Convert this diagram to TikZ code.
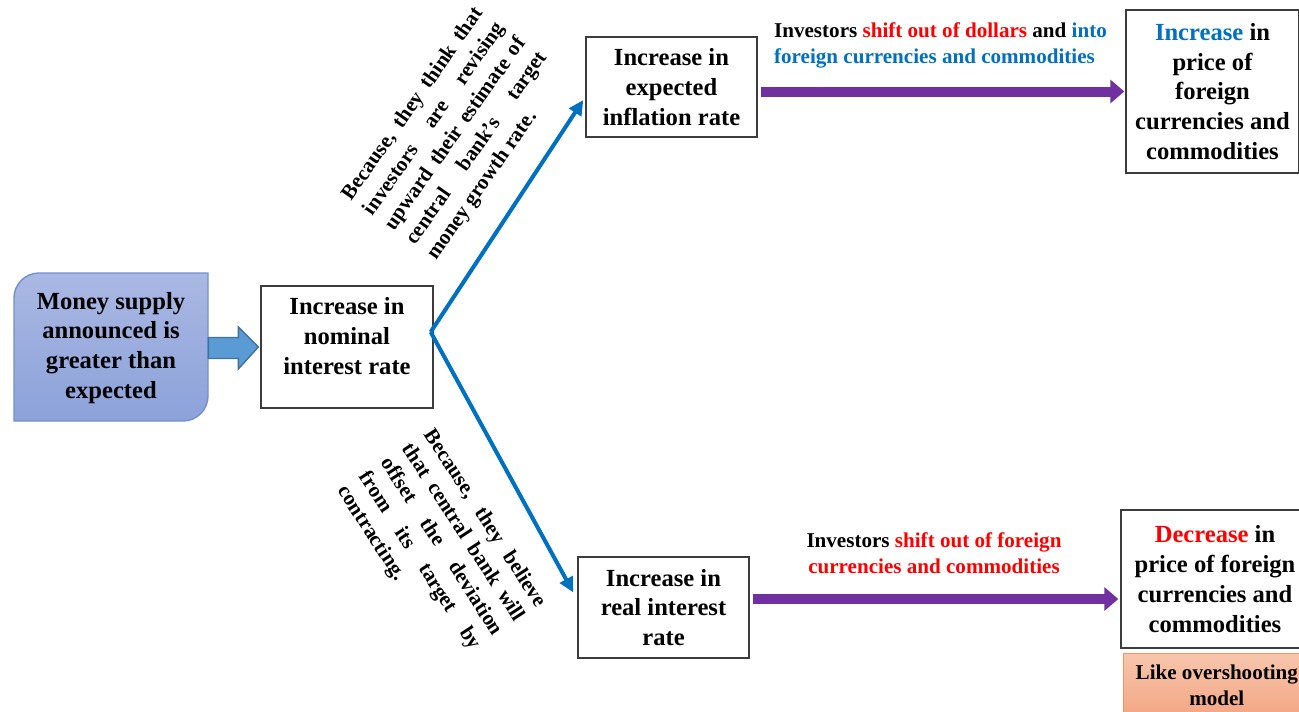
\documentclass[tikz,border=0pt]{standalone}
\usepackage{fontspec}
\setmainfont{Liberation Serif}
\usepackage{xcolor}
\usepackage{tikz}
\usetikzlibrary{arrows.meta, positioning, calc}
\definecolor{myblue}{RGB}{0,112,192}
\definecolor{myred}{RGB}{255,0,0}
\definecolor{mypurple}{RGB}{112,48,160}
\definecolor{boxframe}{RGB}{60,60,60}
\definecolor{moneytop}{RGB}{170,184,227}
\definecolor{moneybot}{RGB}{140,162,218}
\definecolor{moneyframe}{RGB}{116,144,206}
\definecolor{arrowfill}{RGB}{91,155,213}
\definecolor{arrowframe}{RGB}{65,113,156}
\definecolor{peachtop}{RGB}{248,198,172}
\definecolor{peachbot}{RGB}{243,166,132}
\definecolor{peachframe}{RGB}{240,150,100}
\newcommand{\fitline}[2]{\makebox[#1][s]{#2}}
\tikzset{
  box/.style={rectangle, draw=boxframe, fill=white, line width=0.8pt, inner sep=0pt},
  boxtext/.style={align=center, font=\fontsize{14}{17}\selectfont\bfseries},
  note/.style={align=left, inner sep=0pt, font=\fontsize{12}{14.7}\selectfont\bfseries},
  bluearrow/.style={-{Triangle[length=0.3cm, width=0.28cm]}, line width=2.3pt, color=myblue},
  purplearrow/.style={-{Triangle[length=0.28cm, width=0.46cm]}, line width=0.2cm, color=mypurple},
  blockarrow/.style={draw=arrowframe, fill=arrowfill, line width=0.8pt}
}

\begin{document}
\begin{tikzpicture}[x=0.02cm, y=-0.02cm]
  \clip (0,0) rectangle (1299,711);
  % -- starting point: the announcement --
  \path[draw=moneyframe, line width=0.8pt, top color=moneytop, bottom color=moneybot]
    (14,421) -- (14,298) .. controls (14,284.2) and (25.2,273) .. (39,273) -- (208,273)
    -- (208,396) .. controls (208,409.8) and (196.8,421) .. (183,421) -- cycle;
  \node[boxtext, minimum width=3.88cm, minimum height=2.96cm] (money) at (111,348)
    {Money supply\\announced is\\greater than\\expected};
  % -- nominal rate box --
  \node[box, minimum width=3.44cm, minimum height=2.44cm] (nominal) at (347,347) {};
  \node[boxtext] at ($(nominal.center)+(0,-11)$) {Increase in\\nominal\\interest rate};
  % block arrow between them
  \path[blockarrow] ($(money.east)+(0,-10.5)$) -- ++(30,0) -- ++(0,-10.5)
    -- ($(nominal.west)+(-2,0)$) -- ($(money.east)+(30,21)$) -- ++(0,-10.5)
    -- ($(money.east)+(0,10.5)$) -- cycle;

  % -- the two channels --
  \node[box, boxtext, minimum width=3.42cm, minimum height=2cm] (expected) at (671.5,87)
    {Increase in\\expected\\inflation rate};
  \node[box, boxtext, minimum width=3.42cm, minimum height=2.02cm] (real) at (663.5,607.5)
    {Increase in\\real interest\\rate};
  \coordinate (fork) at ($(nominal.east)+(-3,-15)$);
  \draw[bluearrow] (fork) -- ($(expected.west)+(-2,13)$);
  \draw[bluearrow] (fork) -- ($(real.west)+(-4,-15)$);

  % reasons along the blue arrows
  \node[note, rotate=55] (whyup) at (456,134)
    {\fitline{4.6cm}{Because, they think that}\\
     \fitline{4.6cm}{investors are revising}\\
     \fitline{4.6cm}{upward their estimate of}\\
     \fitline{4.6cm}{central bank's target}\\
     money growth rate.};
  \node[note, rotate=-57] (whydown) at (441,547)
    {\fitline{4.15cm}{Because, they believe}\\
     \fitline{4.15cm}{that central bank will}\\
     \fitline{4.15cm}{offset the deviation}\\
     \fitline{4.15cm}{from its target by}\\
     contracting.};

  % -- outcomes --
  \node[box, boxtext, minimum width=3.46cm, minimum height=3.26cm] (incprice) at (1212.5,91.5)
    {{\color{myblue}Increase} in\\price of\\foreign\\currencies and\\commodities};
  \node[box, boxtext, minimum width=3.76cm, minimum height=2.76cm] (decprice) at (1215,579)
    {{\color{myred}Decrease} in\\price of foreign\\currencies and\\commodities};
  \node[note, align=center, draw=peachframe, line width=0.6pt, top color=peachtop,
    bottom color=peachbot, minimum width=3.72cm, minimum height=1.28cm, anchor=north west]
    (overshoot) at ($(decprice.south west)+(3,4)$) {Like overshooting\\model};

  % purple shifts
  \coordinate (highstart) at ($(expected.east)+(3,4.5)$);
  \draw[purplearrow] (highstart) -- ($(highstart -| incprice.west)+(-1,0)$);
  \coordinate (lowstart) at ($(real.east)+(3,-8.5)$);
  \draw[purplearrow] (lowstart) -- ($(lowstart -| decprice.west)+(-2,0)$);
  \node[note] (shiftup) at (940.5,45)
    {Investors {\color{myred}shift out of dollars} and {\color{myblue}into}\\
     {\color{myblue}foreign currencies and commodities}};
  \node[note, align=center] (shiftdown) at (934,553)
    {Investors {\color{myred}shift out of foreign}\\
     {\color{myred}currencies and commodities}};
\end{tikzpicture}
\end{document}
